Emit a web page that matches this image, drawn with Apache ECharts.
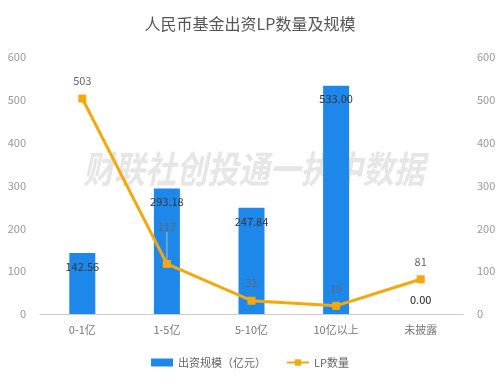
<!DOCTYPE html>
<html><head><meta charset="utf-8">
<script src="https://cdn.jsdelivr.net/npm/echarts@6/dist/echarts.min.js"></script>
<style>html,body{margin:0;padding:0;background:#fff}#c{width:500px;height:381px}</style>
</head><body><div id="c"></div>
<script>
const categories = ['0-1亿', '1-5亿', '5-10亿', '10亿以上', '未披露'];
const scaleValues = [142.56, 293.18, 247.84, 533.00, 0.00];
const lpCounts = [503, 117, 31, 19, 81];
const yTicks = [0, 100, 200, 300, 400, 500, 600];

const font = '"Noto Sans CJK SC", "Noto Sans", sans-serif';
const chart = echarts.init(document.getElementById('c'));

const barData = scaleValues.map(v => {
  if (v === 0) return { value: v, label: { position: 'top', distance: 9, color: '#222' } };
  return { value: v };
});
const lineData = lpCounts.map((v, i) => {
  if (i === 1) return { value: v, labelLine: { show: true } };
  return { value: v };
});

chart.setOption({
  animation: false,
  textStyle: { fontFamily: font },
  title: {
    text: '人民币基金出资LP数量及规模', left: 'center', top: 11,
    textStyle: { fontSize: 16, fontWeight: 'normal', color: '#555', fontFamily: font }
  },
  graphic: [{
    type: 'text', x: 83, y: 150, scaleX: 0.84, z: -10, silent: true,
    style: { text: '财联社创投通一执中数据', fill: '#e6e6e6', font: 'italic bold 37px ' + font }
  }],
  legend: {
    bottom: 8, left: 'center', itemWidth: 22, itemHeight: 8, itemGap: 20,
    textStyle: { fontSize: 11, color: '#666', fontFamily: font },
    data: [{ name: '出资规模（亿元）', icon: 'rect' }, { name: 'LP数量' }]
  },
  grid: { left: 40, right: 37, top: 57, bottom: 67 },
  xAxis: {
    type: 'category', data: categories,
    axisLine: { lineStyle: { color: '#ccc' } }, axisTick: { show: false },
    axisLabel: { color: '#777', fontSize: 11, margin: 10 }
  },
  yAxis: [
    { type: 'value', min: yTicks[0], max: yTicks[yTicks.length - 1], interval: 100,
      splitLine: { show: false }, axisLine: { show: false }, axisTick: { show: false },
      axisLabel: { color: '#999', fontSize: 11, margin: 14 } },
    { type: 'value', min: yTicks[0], max: yTicks[yTicks.length - 1], interval: 100,
      splitLine: { show: false }, axisLine: { show: false }, axisTick: { show: false },
      axisLabel: { color: '#999', fontSize: 11, margin: 14 } }
  ],
  series: [
    { name: '出资规模（亿元）', type: 'bar', data: barData, barWidth: 26, z: 2,
      itemStyle: { color: '#1E88EA' },
      label: { show: true, position: 'insideTop', distance: 8, color: '#333', fontSize: 11,
        formatter: p => p.value.toFixed(2) } },
    { name: 'LP数量', type: 'line', yAxisIndex: 1, data: lineData, z: 3,
      symbol: 'rect', symbolSize: 8,
      lineStyle: { color: '#F5A80C', width: 3 }, itemStyle: { color: '#F5A80C' },
      labelLine: { lineStyle: { color: '#bbb', width: 1 } },
      labelLayout: p => (p.dataIndex === 1 ? { dy: -20 } : {}),
      label: { show: true, position: 'top', distance: 8, color: '#666', fontSize: 11 } }
  ]
});
</script></body></html>
